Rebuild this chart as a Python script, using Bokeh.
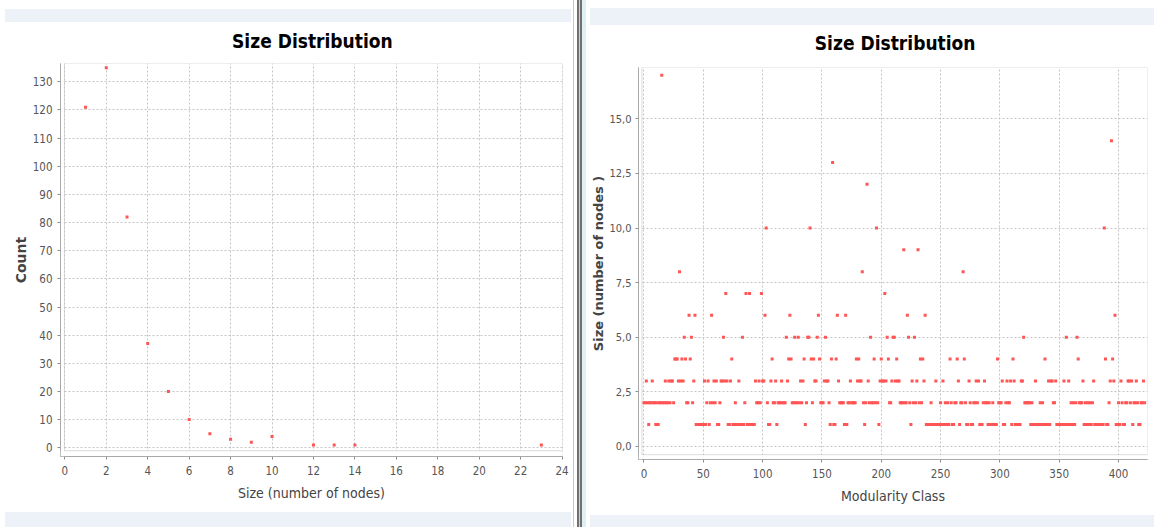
from bokeh.plotting import figure
from bokeh.layouts import row, column
from bokeh.models import Range1d, FixedTicker, BoxAnnotation, Spacer, CustomJSTickFormatter
from bokeh.core.properties import value
from bokeh.embed import file_html
from bokeh.resources import INLINE

# ---------------- data: left chart (community size distribution) ----------------
community_size = [1, 2, 3, 4, 5, 6, 7, 8, 9, 10, 12, 13, 14, 23]
community_count = [121, 135, 82, 37, 20, 10, 5, 3, 2, 4, 1, 1, 1, 1]
left_x_ticks = [0, 2, 4, 6, 8, 10, 12, 14, 16, 18, 20, 22, 24]
left_y_ticks = [0, 10, 20, 30, 40, 50, 60, 70, 80, 90, 100, 110, 120, 130]

# ---------------- data: right chart (modularity classes, grouped by their size) ----------------
classes_size_1 = [4, 10, 12, 44, 45, 46, 47, 48, 49, 50, 52, 55, 62, 63, 71, 72, 75, 76, 78, 79,
                  81, 82, 84, 87, 88, 90, 91, 92, 93, 105, 106, 112, 136, 157, 160, 161, 169, 171,
                  186, 198, 225, 238, 239, 240, 241, 243, 244, 245, 247, 248, 249, 251, 253, 255,
                  257, 260, 261, 266, 272, 273, 276, 277, 283, 284, 285, 290, 292, 293, 295, 296,
                  297, 303, 304, 310, 313, 314, 315, 316, 317, 326, 328, 329, 331, 332, 333, 335,
                  337, 339, 340, 342, 348, 349, 350, 351, 352, 353, 355, 357, 359, 361, 363, 371,
                  373, 375, 377, 380, 381, 382, 383, 384, 385, 386, 387, 390, 391, 398, 399, 401,
                  404, 405, 412, 417, 418]
classes_size_2 = [0, 1, 3, 5, 6, 8, 9, 11, 13, 14, 16, 17, 19, 20, 22, 25, 36, 37, 41, 53, 56, 58,
                  60, 64, 77, 85, 95, 96, 98, 104, 109, 110, 113, 114, 115, 117, 118, 119, 125, 126,
                  128, 129, 131, 133, 137, 142, 149, 150, 151, 156, 165, 166, 167, 168, 172, 173,
                  175, 176, 177, 178, 185, 187, 190, 192, 193, 195, 197, 207, 208, 216, 217, 218,
                  220, 221, 224, 227, 229, 232, 234, 242, 250, 254, 256, 259, 262, 263, 267, 268,
                  271, 275, 278, 279, 281, 286, 288, 289, 291, 294, 299, 300, 301, 305, 307, 308,
                  321, 322, 323, 324, 325, 327, 334, 336, 345, 346, 360, 362, 364, 367, 368, 369,
                  372, 374, 376, 378, 392, 400, 403, 406, 407, 410, 413, 414, 416, 419, 420, 422]
classes_size_3 = [2, 7, 18, 21, 23, 24, 29, 31, 33, 42, 51, 54, 59, 61, 65, 66, 68, 70, 73, 80,
                  94, 97, 100, 101, 107, 111, 116, 121, 132, 134, 144, 145, 152, 154, 155, 164,
                  174, 180, 182, 183, 189, 199, 201, 202, 204, 209, 212, 214, 215, 226, 230, 236,
                  246, 252, 265, 274, 280, 282, 287, 302, 306, 309, 312, 318, 319, 330, 341, 343,
                  344, 347, 354, 358, 370, 379, 393, 396, 402, 408, 409, 411, 415, 421]
classes_size_4 = [26, 27, 28, 32, 35, 39, 74, 108, 122, 124, 135, 141, 143, 148, 158, 162, 179,
                  181, 194, 200, 206, 213, 233, 235, 258, 264, 270, 298, 311, 338, 366, 389, 395]
classes_size_5 = [34, 40, 67, 83, 120, 127, 130, 138, 139, 146, 153, 191, 205, 210, 211, 223, 228,
                  320, 356, 365]
classes_size_6 = [38, 43, 57, 102, 123, 147, 163, 170, 222, 237, 397]
classes_size_7 = [69, 86, 89, 99, 203]
classes_size_8 = [30, 184, 269]
classes_size_9 = [219, 231]
classes_size_10 = [103, 140, 196, 388]
classes_size_12 = [188]
classes_size_13 = [159]
classes_size_14 = [394]
classes_size_17 = [15]
right_x_ticks = [0, 50, 100, 150, 200, 250, 300, 350, 400]
right_y_ticks = [0, 2.5, 5, 7.5, 10, 12.5, 15]

rows_by_size = {1: classes_size_1, 2: classes_size_2, 3: classes_size_3, 4: classes_size_4,
                5: classes_size_5, 6: classes_size_6, 7: classes_size_7, 8: classes_size_8,
                9: classes_size_9, 10: classes_size_10, 12: classes_size_12, 13: classes_size_13,
                14: classes_size_14, 17: classes_size_17}
mod_class, mod_size = [], []
for s, cl in rows_by_size.items():
    mod_class += cl
    mod_size += [s] * len(cl)

TITLE = "Size Distribution"

# ---------------- styling ----------------
RED = "#ff5555"
GRID = "#c4c4c4"
FRAME = "#8c8c8c"
STRIP = "#edf2f9"
COND = "DejaVu Sans Condensed"


def style(p, inner_x0, inner_y0, xticks, yticks, ylabel_size):
    p.outline_line_color = None
    p.background_fill_color = "white"
    p.border_fill_color = "white"
    p.xaxis.ticker = FixedTicker(ticks=xticks)
    p.yaxis.ticker = FixedTicker(ticks=yticks)
    p.xgrid.ticker = FixedTicker(ticks=xticks)
    p.ygrid.ticker = FixedTicker(ticks=yticks)
    for g in (p.xgrid, p.ygrid):
        g.grid_line_color = GRID
        g.grid_line_dash = "2 2"
        g.grid_line_width = 1
    for ax in p.axis:
        ax.axis_line_color = FRAME
        ax.major_tick_line_color = FRAME
        ax.major_tick_out = 3
        ax.major_tick_in = 0
        ax.minor_tick_line_color = None
        ax.major_label_text_font = COND
        ax.major_label_text_font_size = "11.5px"
        ax.major_label_text_color = "#555555"
        ax.major_label_standoff = 5
        ax.axis_label_text_color = "#444444"
    p.xaxis.major_label_standoff = 6
    p.xaxis.axis_label_text_font = COND
    p.xaxis.axis_label_text_font_size = "14px"
    p.xaxis.axis_label_text_font_style = "normal"
    p.xaxis.axis_label_standoff = 7
    p.yaxis.axis_label_text_font = "DejaVu Sans"
    p.yaxis.axis_label_text_font_size = ylabel_size
    p.yaxis.axis_label_text_font_style = "bold"
    p.yaxis.axis_label_standoff = 1
    # white gap between the offset axis lines and the plot border
    p.add_layout(BoxAnnotation(right=inner_x0, fill_color="white", fill_alpha=1, line_color=None))
    p.add_layout(BoxAnnotation(top=inner_y0, fill_color="white", fill_alpha=1, line_color=None))
    p.add_layout(BoxAnnotation(left=inner_x0, right=p.x_range.end, bottom=inner_y0, top=p.y_range.end,
                               fill_alpha=0, line_color=FRAME, line_width=1))


def title_fig(w, h, cx, base):
    t = figure(width=w, height=h, x_range=Range1d(0, w), y_range=Range1d(h, 0),
               x_axis_type=None, y_axis_type=None, output_backend="svg", toolbar_location=None,
               min_border=0)
    t.outline_line_color = None
    t.background_fill_color = "white"
    t.border_fill_color = "white"
    t.text(x=[cx], y=[base], text=[TITLE], text_align="center", text_baseline="alphabetic",
           text_font=value(COND), text_font_style="bold", text_font_size="19px", text_color="#000000")
    return t


# left chart
pl = figure(width=573, height=452, x_range=Range1d(-0.21, 24.02), y_range=Range1d(-3.1, 136.5),
            output_backend="svg", toolbar_location=None,
            min_border_left=60, min_border_right=11, min_border_top=3, min_border_bottom=56)
pl.scatter(community_size, community_count, marker="square", size=3, fill_color=RED, line_color=None)
pl.xaxis.axis_label = "Size (number of nodes)"
pl.yaxis.axis_label = "Count"
style(pl, -0.02, -1.05, left_x_ticks, left_y_ticks, "14px")

# right chart
pr = figure(width=568, height=451, x_range=Range1d(-4.6, 424.4), y_range=Range1d(-0.6, 17.35),
            output_backend="svg", toolbar_location=None,
            min_border_left=52, min_border_right=7, min_border_top=3, min_border_bottom=56)
pr.scatter(mod_class, mod_size, marker="square", size=3, fill_color=RED, line_color=None)
pr.xaxis.axis_label = "Modularity Class"
pr.yaxis.axis_label = "Size (number of nodes )"
style(pr, -1.7, -0.38, right_x_ticks, right_y_ticks, "13px")
pr.yaxis.major_label_standoff = 4
pr.yaxis.major_label_text_font_size = "11px"
pr.yaxis.axis_label_standoff = 0
pr.yaxis.formatter = CustomJSTickFormatter(code="return tick.toFixed(1).replace('.', ',');")


def box(w, h, color="white"):
    return Spacer(width=w, height=h, styles={"background-color": color})


left_col = column(
    box(573, 9),
    row(box(5, 13), box(566, 13, STRIP), box(2, 13)),
    title_fig(573, 38, 287.5, 18),
    pl,
    row(box(5, 15), box(566, 15, STRIP), box(2, 15)),
)
divider = row(box(1, 527, "#c8c8c8"), box(3, 527), box(2, 527, "#707070"), box(1, 527, "#d0d0d0"),
              box(2, 527, "#707070"), box(4, 527, "#dff0f5"))
right_col = column(
    box(568, 8),
    row(box(4, 17), box(564, 17, STRIP)),
    title_fig(568, 39, 286.4, 17),
    pr,
    row(box(4, 12), box(564, 12, STRIP)),
)

layout = row(left_col, divider, right_col)

open("out.html", "w").write(file_html(layout, INLINE))
